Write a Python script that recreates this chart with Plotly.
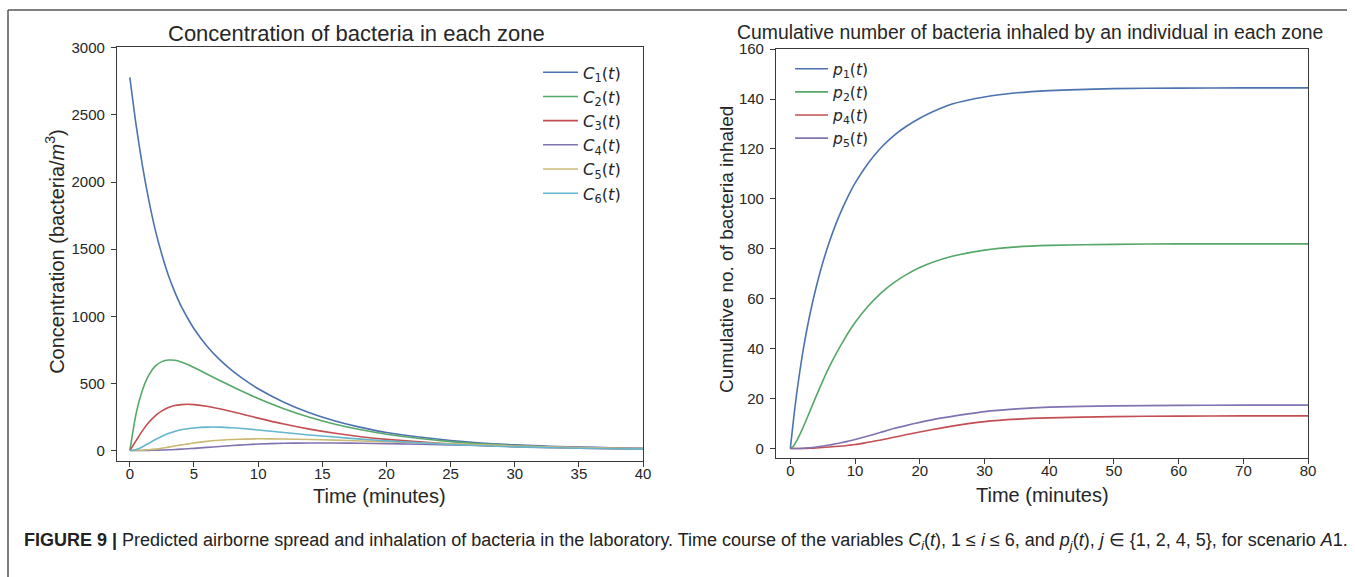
import plotly.graph_objects as go

W, H = 1355, 577

# ---- Concentration of bacteria in each zone (bacteria/m^3) ----
t_c = [0, 0.5, 1, 1.5, 2, 2.5, 3, 3.5, 4, 4.5, 5, 6, 7, 8, 9, 10, 12, 14, 16, 18, 20, 25, 30, 35, 40]
C1 = [2780, 2417, 2111, 1854, 1636, 1458, 1306, 1182, 1075, 987, 907, 779, 677, 593, 522, 460, 360, 281, 220, 172, 134, 75, 42, 25, 15]
C2 = [0, 280, 455, 565, 630, 662, 674, 672, 660, 641, 618, 570, 522, 475, 430, 387, 311, 247, 195, 154, 121, 66, 36, 20, 11]
C3 = [0, 75, 150, 212, 260, 295, 320, 335, 342, 344, 342, 330, 311, 289, 265, 241, 197, 159, 128, 103, 83, 48, 28, 17, 10]
C4 = [0, 0, 0.3, 1, 2, 3.3, 5, 7.3, 10, 13, 16, 23, 30, 37, 43, 48, 54, 56, 56, 54, 51, 42, 32, 23, 16]
C5 = [0, 0.5, 2, 5, 10, 17, 25, 33, 42, 49, 56, 68, 76, 82, 85, 87, 86, 82, 77, 71, 65, 50, 34, 22, 14]
C6 = [0, 8, 28, 55, 82, 106, 126, 142, 154, 162, 168, 174, 174, 169, 162, 153, 134, 116, 100, 85, 72, 45, 27, 17, 10]

# ---- Cumulative number of bacteria inhaled ----
t_p = [0, 0.5, 1, 1.5, 2, 3, 4, 5, 6, 7, 8, 9, 10, 12, 14, 16, 18, 20, 22, 25, 30, 35, 40, 50, 60, 70, 80]
p1 = [0, 11.8, 22.4, 31.4, 39.7, 53.4, 64.7, 74.3, 82.5, 89.7, 95.9, 101.4, 106.3, 114.2, 120.5, 125.4, 129.2, 132.3, 134.9, 138.0, 140.8, 142.5, 143.4, 144.2, 144.4, 144.5, 144.5]
p2 = [0, 1.0, 3.2, 5.8, 8.6, 14.8, 21, 27, 32.6, 37.6, 42.2, 46.6, 50.5, 57, 62.3, 66.5, 69.8, 72.5, 74.6, 77, 79.5, 80.8, 81.4, 81.8, 82, 82, 82]
p4 = [0, 0, 0, 0.02, 0.05, 0.12, 0.25, 0.4, 0.6, 0.8, 1.0, 1.3, 1.6, 2.5, 3.4, 4.5, 5.6, 6.6, 7.6, 9.0, 10.8, 11.8, 12.3, 12.8, 13.0, 13.1, 13.1]
p5 = [0, 0, 0, 0.05, 0.1, 0.3, 0.6, 1.0, 1.4, 1.9, 2.4, 3.0, 3.6, 5.0, 6.5, 8.0, 9.3, 10.5, 11.6, 12.9, 14.8, 15.9, 16.6, 17.1, 17.3, 17.4, 17.4]

conc_series = [("1", C1), ("2", C2), ("3", C3), ("4", C4), ("5", C5), ("6", C6)]
inh_series = [("1", p1), ("2", p2), ("4", p4), ("5", p5)]

COL = {"blue": "#4C72B0", "green": "#55A868", "red": "#C44E52",
       "purple": "#8172B2", "yellow": "#CCB974", "cyan": "#64B5CD"}
conc_colors = [COL["blue"], COL["green"], COL["red"], COL["purple"], COL["yellow"], COL["cyan"]]
inh_colors = [COL["blue"], COL["green"], COL["red"], COL["purple"]]

FONT = "Liberation Sans, Arial, Helvetica, sans-serif"
MATH = "DejaVu Sans, sans-serif"
INK = "#262626"

# page placement: the figure shows up shifted/compressed slightly on the page,
# so layout positions are given in page pixels and converted here
X_SCALE, Y_TOP, Y_SCALE = 0.994, 10.0, 0.981


def px(x):
    return (x / X_SCALE) / W


def py(y):
    return 1 - ((y - Y_TOP) / Y_SCALE) / H


fig = go.Figure()

for (k, vals), c in zip(conc_series, conc_colors):
    fig.add_trace(go.Scatter(
        x=t_c, y=vals, mode="lines", xaxis="x", yaxis="y",
        line=dict(color=c, width=1.6, shape="spline", smoothing=0.6),
        name=f"<i>C</i><sub>{k}</sub>(<i>t</i>)", legend="legend"))

for (k, vals), c in zip(inh_series, inh_colors):
    fig.add_trace(go.Scatter(
        x=t_p, y=vals, mode="lines", xaxis="x2", yaxis="y2",
        line=dict(color=c, width=1.6, shape="spline", smoothing=0.6),
        name=f"<i>p</i><sub>{k}</sub>(<i>t</i>)", legend="legend2"))

axis_style = dict(showline=True, mirror=True, linecolor="#3a3a3a", linewidth=1.3,
                  ticks="outside", ticklen=5, tickwidth=1.2, tickcolor="#3a3a3a",
                  showgrid=False, zeroline=False,
                  tickfont=dict(family=FONT, size=15, color=INK))

fig.update_layout(
    width=W, height=H,
    margin=dict(l=0, r=0, t=0, b=0, pad=0),
    paper_bgcolor="white", plot_bgcolor="white",
    xaxis=dict(domain=[px(117), px(643)], range=[-1, 40], tickvals=list(range(0, 41, 5)),
               anchor="y", ticklabelstandoff=-6, **axis_style),
    yaxis=dict(domain=[py(460), py(48)], range=[-75, 3005], tickvals=list(range(0, 3001, 500)),
               anchor="x", ticklabelstandoff=3, **axis_style),
    xaxis2=dict(domain=[px(776), px(1308)], range=[-2.2, 80], tickvals=list(range(0, 81, 10)),
                anchor="y2", ticklabelstandoff=-6, **axis_style),
    yaxis2=dict(domain=[py(457), py(50)], range=[-3.6, 160], tickvals=list(range(0, 161, 20)),
                anchor="x2", ticklabelstandoff=3, **axis_style),
    legend=dict(x=px(538), y=py(56), xanchor="left", yanchor="top", itemwidth=35,
                font=dict(family=MATH, size=16.3, color=INK), bgcolor="rgba(0,0,0,0)",
                tracegroupgap=0),
    legend2=dict(x=px(790), y=py(53), xanchor="left", yanchor="top", itemwidth=33,
                 font=dict(family=MATH, size=15.5, color=INK), bgcolor="rgba(0,0,0,0)",
                 tracegroupgap=0),
    showlegend=True,
)

ann = []
ann.append(dict(text="Concentration of bacteria in each zone", x=px(356), y=py(34),
                font=dict(family=FONT, size=22, color=INK)))
ann.append(dict(text="Cumulative number of bacteria inhaled by an individual in each zone",
                x=px(1030), y=py(33), font=dict(family=FONT, size=19.4, color=INK)))
ann.append(dict(text="Time (minutes)", x=px(379), y=py(495), font=dict(family=FONT, size=20, color=INK)))
ann.append(dict(text="Time (minutes)", x=px(1042), y=py(494), font=dict(family=FONT, size=20, color=INK)))
ann.append(dict(text="Concentration (bacteria/<i>m</i><sup>3</sup>)", x=px(55), y=py(252), textangle=-90,
                font=dict(family=FONT, size=20, color=INK)))
ann.append(dict(text="Cumulative no. of bacteria inhaled", x=px(727), y=py(250), textangle=-90,
                font=dict(family=FONT, size=19, color=INK)))
caption = ("<b>FIGURE 9 | </b>Predicted airborne spread and inhalation of bacteria in the laboratory. "
           "Time course of the variables <i>C<sub>i</sub></i>(<i>t</i>), 1 \u2264 <i>i</i> \u2264 6, "
           "and <i>p<sub>j</sub></i>(<i>t</i>), <i>j</i> \u2208 {1, 2, 4, 5}, for scenario <i>A</i>1.")
ann.append(dict(text=caption, x=px(22), y=py(541), xanchor="left",
                font=dict(family="Liberation Sans Narrow, Arial Narrow, " + FONT, size=18, color="#222")))
for a in ann:
    a.setdefault("xanchor", "center")
    a.update(xref="paper", yref="paper", yanchor="middle", showarrow=False)
fig.update_layout(annotations=ann)

# outer frame (top and left edges)
top = 1 - 1.0 / H
fig.add_shape(type="line", xref="paper", yref="paper", x0=px(8), x1=1, y0=top, y1=top,
              line=dict(color="#555555", width=1.5))
fig.add_shape(type="line", xref="paper", yref="paper", x0=px(8), x1=px(8), y0=top, y1=0,
              line=dict(color="#555555", width=1.5))

fig.write_html("out.html")
